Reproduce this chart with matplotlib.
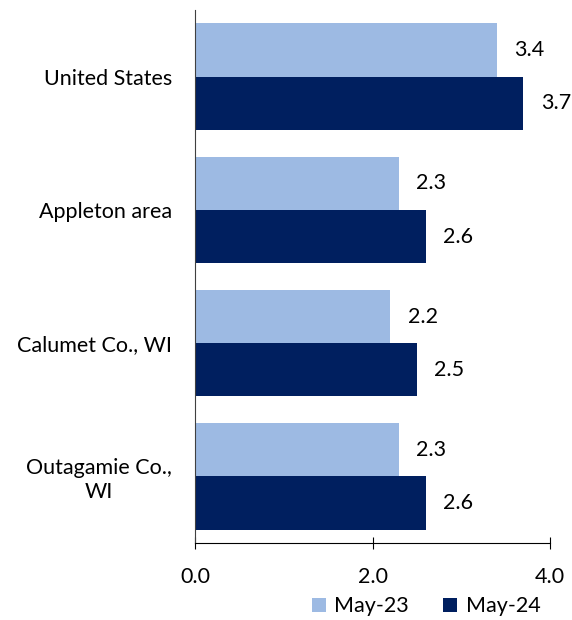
import matplotlib
matplotlib.use("Agg")
import matplotlib.pyplot as plt
import numpy as np

categories = ["United States", "Appleton area", "Calumet Co., WI", "Outagamie Co.,\nWI"]
may23 = [3.4, 2.3, 2.2, 2.3]
may24 = [3.7, 2.6, 2.5, 2.6]
series_names = ["May-23", "May-24"]
xticks = [0.0, 2.0, 4.0]

c_light = "#9DBAE3"
c_dark = "#001F5F"

plt.rcParams['font.family'] = ['Lato', 'DejaVu Sans']
FS = 15.5

fig = plt.figure(figsize=(5.72, 6.2), dpi=100)
ax = fig.add_axes([0.341, 0.124, 0.6205, 0.860])

y = np.arange(len(categories))
h = 0.4
b1 = ax.barh(y - h/2, may23, height=h, color=c_light, label=series_names[0])
b2 = ax.barh(y + h/2, may24, height=h, color=c_dark, label=series_names[1])

for bars, vals in ((b1, may23), (b2, may24)):
    for rect, v in zip(bars, vals):
        ax.annotate(f"{v:.1f}", (rect.get_width(), rect.get_y() + rect.get_height()/2),
                    xytext=(12.5, 0), textcoords="offset points", ha="left", va="center",
                    fontsize=FS, color="black")

ax.set_ylim(len(categories) - 0.5, -0.5)
ax.set_xlim(0, 4)
ax.set_yticks(y)
ax.set_yticklabels(categories, fontsize=FS, multialignment="center")
ax.set_xticks(xticks)
ax.set_xticklabels([f"{t:.1f}" for t in xticks], fontsize=FS)

for s in ("top", "right"):
    ax.spines[s].set_visible(False)
ax.spines["left"].set_color("#404040")
ax.spines["bottom"].set_color("black")
ax.tick_params(axis="y", length=0, pad=16.5)
ax.tick_params(axis="x", direction="inout", length=8, pad=13)

fig.legend(handles=[b1, b2], labels=series_names, loc="center", bbox_to_anchor=(0.745, 0.022),
           ncol=2, frameon=False, fontsize=FS, handlelength=0.65, handleheight=0.65,
           handletextpad=0.4, columnspacing=1.6)

fig.savefig("out.png", dpi=100)
